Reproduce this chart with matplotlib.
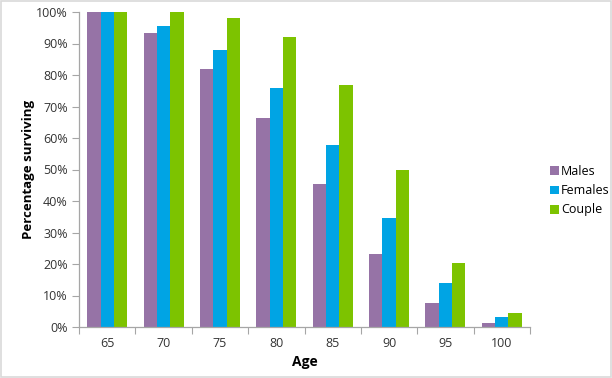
import matplotlib
matplotlib.use("Agg")
import matplotlib.pyplot as plt
import numpy as np
from matplotlib.ticker import FuncFormatter, FixedLocator
from matplotlib.patches import Rectangle

ages = ["65", "70", "75", "80", "85", "90", "95", "100"]
males = [100, 93.2, 82.0, 66.3, 45.4, 23.3, 7.7, 1.4]
females = [100, 95.6, 87.9, 75.8, 57.7, 34.5, 13.9, 3.3]
couple = [100, 99.9, 98.2, 92.0, 76.9, 49.7, 20.4, 4.3]
series_names = ["Males", "Females", "Couple"]
colors = ["#9673A6", "#00A4E4", "#7DC300"]

plt.rcParams['font.family'] = ['Open Sans', 'DejaVu Sans']

fig = plt.figure(figsize=(6.12, 3.78), dpi=100)
ax = fig.add_axes([79/612, 51/378, 451/612, 315/378])

x = np.arange(len(ages))
w = 0.236
for i, (vals, name, c) in enumerate(zip([males, females, couple], series_names, colors)):
    ax.bar(x + (i - 1) * w, vals, width=w, color=c, label=name, edgecolor='none')

ax.set_xlim(-0.5, len(ages) - 0.5)
ax.set_ylim(0, 100)
ax.yaxis.set_major_locator(FixedLocator(np.arange(0, 101, 10)))
ax.yaxis.set_major_formatter(FuncFormatter(lambda v, p: f"{int(v)}%"))

ax.xaxis.set_major_locator(FixedLocator(np.arange(-0.5, len(ages), 1)))
ax.xaxis.set_minor_locator(FixedLocator(x))
ax.set_xticklabels([])
ax.set_xticklabels(ages, minor=True)
ax.tick_params(axis='x', which='major', length=5, color='#A6A6A6', direction='out')
ax.tick_params(axis='x', which='minor', length=0, pad=7, labelsize=9, labelcolor='#333333')
ax.tick_params(axis='y', length=5, color='#A6A6A6', labelsize=9, labelcolor='#333333', pad=3)

for s in ['top', 'right']:
    ax.spines[s].set_visible(False)
for s in ['left', 'bottom']:
    ax.spines[s].set_color('#A6A6A6')
    ax.spines[s].set_linewidth(0.9)

ax.set_ylabel("Percentage surviving", fontsize=9.5, fontweight='bold', labelpad=1)
ax.set_xlabel("Age", fontsize=10, fontweight='bold')
ax.xaxis.set_label_coords(0.5, -0.09)

leg = ax.legend(loc='upper left', bbox_to_anchor=(545/612, 218/378), bbox_transform=fig.transFigure,
                frameon=False, fontsize=9, handlelength=0.7, handleheight=0.7,
                handletextpad=0.2, labelspacing=0.5, borderaxespad=0)

fig.patches.append(Rectangle((0.002, 0.003), 0.996, 0.994, transform=fig.transFigure,
                             fill=False, edgecolor='#D9D9D9', linewidth=1.2))

fig.savefig("out.png", dpi=100)
